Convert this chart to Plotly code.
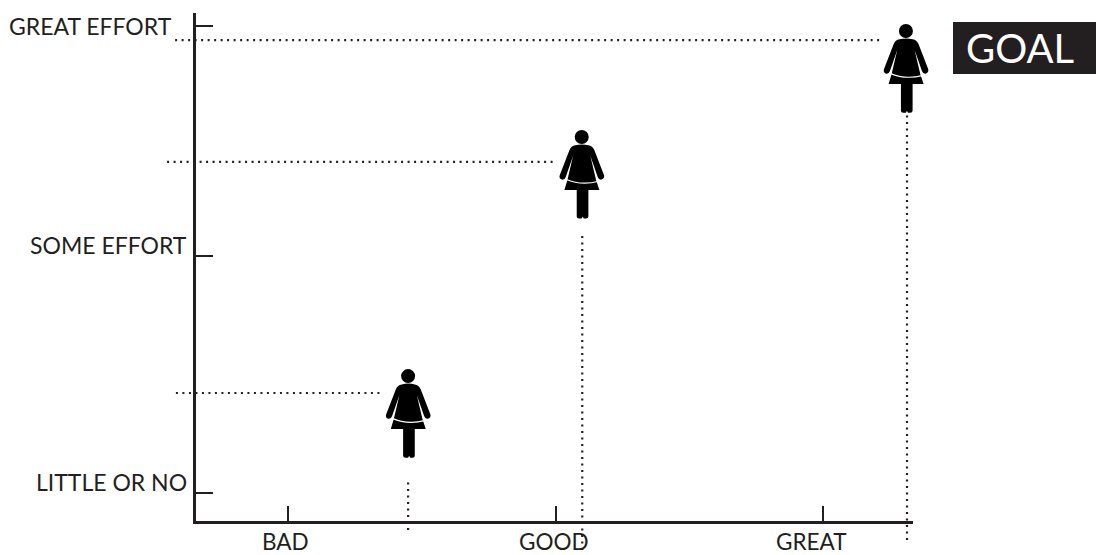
import plotly.graph_objects as go

INK = "#231f20"
FONT = "Lato, Carlito, 'Open Sans', sans-serif"

# Axis categories
quality_labels = ["BAD", "GOOD", "GREAT"]
quality_ticks = [1, 2, 3]
effort_labels = ["LITTLE OR NO", "SOME EFFORT", "GREAT EFFORT"]
effort_ticks = [0, 1, 1.97]

# Dotted guide lines: where each person sits
guide_x = [1.449, 2.100, 3.314]
guide_y = [0.422, 1.397, 1.911]
guide_left = [0.581, 0.548, 0.578]
guide_right = [1.345, 1.995, 3.213]
guide_top = [0.046, 1.089, 1.595]
guide_bottom = [-0.156, -0.241, -0.198]

# Person glyph positions
person_x = [1.449, 2.098, 3.310]
person_y = [0.333, 1.342, 1.789]

W, H = 1096, 555
fig = go.Figure()

# Carries the visible axes
fig.add_trace(go.Scatter(x=quality_ticks, y=[0, 0, 0], mode="markers", hoverinfo="skip",
                         showlegend=False, marker=dict(opacity=0, size=1)))

DOT = "2px,4.5px"
for i in range(3):
    fig.add_trace(go.Scatter(
        x=[guide_left[i], guide_right[i]], y=[guide_y[i], guide_y[i]], xaxis="x2", yaxis="y2",
        mode="lines", hoverinfo="skip", showlegend=False,
        line=dict(color=INK, width=2.2, dash=DOT)))
    fig.add_trace(go.Scatter(
        x=[guide_x[i], guide_x[i]], y=[guide_bottom[i], guide_top[i]], xaxis="x2", yaxis="y2",
        mode="lines", hoverinfo="skip", showlegend=False,
        line=dict(color=INK, width=2.2, dash=DOT)))

# Person outline in a local glyph grid (3 units per pixel, y downwards)
OUTLINE = [
    ("M", 118, 118), ("Q", 137, 113, 157, 118), ("Q", 169, 120, 175, 133),
    ("L", 204, 208), ("Q", 206, 218, 196, 221), ("Q", 188, 222, 185, 213),
    ("L", 163, 150), ("L", 180, 222), ("L", 190, 252), ("L", 157, 252),
    ("L", 157, 332), ("Q", 157, 338, 150, 338), ("L", 143, 338), ("L", 140, 332),
    ("L", 137, 338), ("L", 129, 338), ("Q", 122, 338, 122, 332), ("L", 122, 252),
    ("L", 85, 252), ("L", 94, 222), ("L", 111, 150), ("L", 89, 213),
    ("Q", 86, 222, 78, 221), ("Q", 68, 218, 71, 208), ("L", 100, 133),
    ("Q", 105, 120, 118, 118), ("Z",),
]
HEM = [("M", 90, 220), ("Q", 135, 240, 188, 226)]


def glyph_path(cmds):
    out = []
    for c in cmds:
        nums = c[1:]
        pts = []
        for k in range(0, len(nums), 2):
            pts.append(f"{(nums[k] - 137) / 3:.2f},{(207 - nums[k + 1]) / 3:.2f}")
        out.append(c[0] + " ".join(pts))
    return " ".join(out)


for px, py in zip(person_x, person_y):
    base = dict(xref="x2", yref="y2", xsizemode="pixel", ysizemode="pixel",
                xanchor=px, yanchor=py)
    fig.add_shape(type="path", path=glyph_path(OUTLINE), fillcolor="black",
                  line=dict(width=0), **base)
    fig.add_shape(type="path", path=glyph_path(HEM), fillcolor="rgba(0,0,0,0)",
                  line=dict(color="white", width=1.2), **base)
    fig.add_shape(type="circle", x0=-7, x1=7, y0=31, y1=45, fillcolor="black",
                  line=dict(width=0), **base)

# GOAL tag background
fig.add_shape(type="rect", xref="paper", yref="paper", x0=953 / W, x1=1, y0=(H - 74) / H,
              y1=(H - 22) / H, fillcolor=INK, line=dict(width=0))

annotations = []
# y-axis labels
y_label_right = [189, 189, 174]
y_label_shift = [11, 11, 0]
for lab, val, xr, sh in zip(effort_labels, effort_ticks, y_label_right, y_label_shift):
    annotations.append(dict(text=lab, xref="paper", yref="y", x=xr / W, y=val,
                            xanchor="right", yanchor="middle", yshift=sh,
                            showarrow=False, font=dict(family=FONT, size=23, color=INK)))
# x-axis labels
x_label_shift = [-3, -2, -12]
for lab, val, sh in zip(quality_labels, quality_ticks, x_label_shift):
    annotations.append(dict(text=lab, xref="x", yref="paper", x=val, y=(H - 541) / H,
                            xanchor="center", yanchor="middle", xshift=sh,
                            showarrow=False, font=dict(family=FONT, size=22.5, color=INK)))
# GOAL tag text
annotations.append(dict(text="GOAL", xref="paper", yref="paper", x=964 / W, y=(H - 48) / H,
                        xanchor="left", yanchor="middle", showarrow=False,
                        font=dict(family=FONT, size=40, color="white")))

fig.update_layout(
    width=W, height=H, autosize=False,
    margin=dict(l=0, r=0, t=0, b=0),
    paper_bgcolor="white", plot_bgcolor="rgba(0,0,0,0)",
    showlegend=False, annotations=annotations,
    xaxis=dict(domain=[196 / W, 913 / W], range=[0.656, 3.336], showgrid=False, zeroline=False,
               showline=True, linecolor=INK, linewidth=2.5, ticks="inside", ticklen=15,
               tickwidth=2, tickcolor=INK, tickvals=quality_ticks, showticklabels=False,
               fixedrange=True),
    xaxis2=dict(domain=[0, 1], range=[1 - 288 / 267.5, 1 + 808 / 267.5],
                visible=False, fixedrange=True, anchor="y2"),
    yaxis=dict(domain=[(H - 521) / H, (H - 13) / H], range=[-0.118, 2.025], showgrid=False,
               zeroline=False, showline=True, linecolor=INK, linewidth=2.5, ticks="inside",
               ticklen=17, tickwidth=2, tickcolor=INK, tickvals=effort_ticks,
               showticklabels=False, fixedrange=True),
    yaxis2=dict(domain=[0, 1], range=[(493 - 555) / 237, 493 / 237],
                visible=False, fixedrange=True, anchor="x2"),
)

fig.write_html("out.html", config={"displayModeBar": False},
               post_script="document.body.style.margin='0';")
